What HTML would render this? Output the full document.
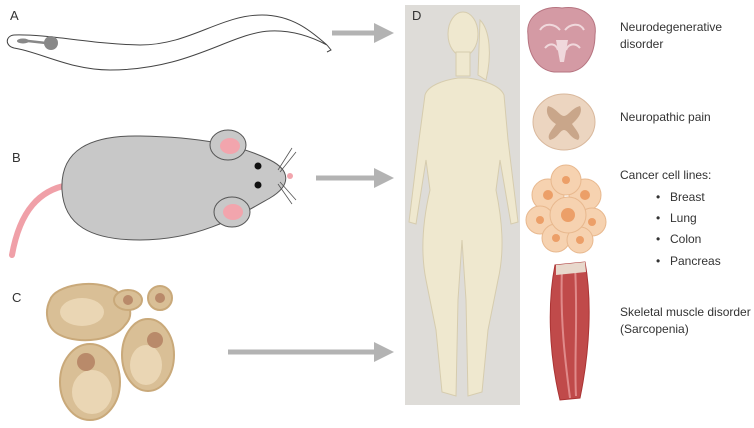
<!DOCTYPE html>
<html><head><meta charset="utf-8">
<style>
html,body{margin:0;padding:0;background:#fff;}
svg{display:block;font-family:"Liberation Sans",sans-serif;}
text{fill:#333;}
</style></head>
<body>
<svg width="754" height="428" viewBox="0 0 754 428">
  <defs>
    <marker id="ah" markerWidth="4" markerHeight="4" refX="2" refY="2" orient="auto">
      <path d="M0,0 L4,2 L0,4 z" fill="#b3b3b3"/>
    </marker>
  </defs>
  <!-- Panel A: worm -->
  <text x="10" y="20" font-size="13">A</text>
  <g>
    <path d="M14,35 C50,34 90,44 140,45 C190,45 220,15 262,15 C295,15 315,35 327,45 C310,36 290,30 270,31 C230,33 190,70 110,70 C70,70 40,52 14,48 C5,46 5,36 14,35 z" fill="#fff" stroke="#444" stroke-width="1"/>
    <path d="M327,45 L331,50 L327,52" stroke="#444" fill="none" stroke-width="1"/>
    <ellipse cx="23" cy="41" rx="6" ry="2.5" fill="#888"/>
    <circle cx="51" cy="43" r="7" fill="#888"/>
    <line x1="28" y1="41" x2="46" y2="43" stroke="#888" stroke-width="2.5"/>
  </g>
  <line x1="332" y1="33" x2="384" y2="33" stroke="#b3b3b3" stroke-width="5" marker-end="url(#ah)"/>

  <!-- Panel B: mouse -->
  <text x="12" y="162" font-size="13">B</text>
  <g>
    <path d="M68,185 C40,190 20,210 12,255" stroke="#f0a0a8" stroke-width="6" fill="none" stroke-linecap="round"/>
    <path d="M62,190 C60,150 90,135 140,136 C200,137 240,145 270,160 C290,170 292,185 270,198 C240,215 200,240 140,240 C90,240 64,225 62,190 z" fill="#c8c8c8" stroke="#555" stroke-width="1"/>
    <ellipse cx="228" cy="145" rx="18" ry="15" fill="#c8c8c8" stroke="#555"/>
    <ellipse cx="230" cy="146" rx="10" ry="8" fill="#f2a5ad"/>
    <ellipse cx="232" cy="212" rx="18" ry="15" fill="#c8c8c8" stroke="#555"/>
    <ellipse cx="233" cy="212" rx="10" ry="8" fill="#f2a5ad"/>
    <circle cx="258" cy="166" r="3.5" fill="#111"/>
    <circle cx="258" cy="185" r="3.5" fill="#111"/>
    <circle cx="290" cy="176" r="3" fill="#f2a5ad"/>
    <path d="M278,170 L292,148 M280,172 L296,152 M278,184 L292,204 M280,182 L296,200" stroke="#555" stroke-width="0.8"/>
  </g>
  <line x1="316" y1="178" x2="384" y2="178" stroke="#b3b3b3" stroke-width="5" marker-end="url(#ah)"/>

  <!-- Panel C: yeast cells -->
  <text x="12" y="302" font-size="13">C</text>
  <g stroke="#c9a97a" stroke-width="2">
    <path d="M50,300 C55,285 95,278 115,290 C130,300 135,315 125,325 C115,340 80,345 60,335 C45,328 45,310 50,300 z" fill="#d9bf96"/>
    <ellipse cx="82" cy="312" rx="22" ry="14" fill="#ead6b4" stroke="none"/>
    <ellipse cx="128" cy="300" rx="14" ry="10" fill="#d9bf96"/>
    <circle cx="128" cy="300" r="5" fill="#b98a6a" stroke="none"/>
    <circle cx="160" cy="298" r="12" fill="#d9bf96"/>
    <circle cx="160" cy="298" r="5" fill="#b98a6a" stroke="none"/>
    <ellipse cx="90" cy="382" rx="30" ry="38" fill="#d9bf96"/>
    <ellipse cx="92" cy="392" rx="20" ry="22" fill="#ead6b4" stroke="none"/>
    <circle cx="86" cy="362" r="9" fill="#b98a6a" stroke="none"/>
    <ellipse cx="148" cy="355" rx="26" ry="36" fill="#d9bf96"/>
    <ellipse cx="146" cy="365" rx="16" ry="20" fill="#ead6b4" stroke="none"/>
    <circle cx="155" cy="340" r="8" fill="#b98a6a" stroke="none"/>
  </g>
  <line x1="228" y1="352" x2="384" y2="352" stroke="#b3b3b3" stroke-width="5" marker-end="url(#ah)"/>

  <!-- Panel D: human -->
  <rect x="405" y="5" width="115" height="400" fill="#dedcd8"/>
  <text x="412" y="20" font-size="13">D</text>
  <g fill="#efe8cf" stroke="#d6ccae" stroke-width="1">
    <path d="M480,20 C490,30 492,55 486,80 L478,75 z"/>
    <ellipse cx="463" cy="34" rx="15" ry="22"/>
    <rect x="456" y="52" width="14" height="24"/>
    <path d="M425,95 C428,85 445,80 458,78 L468,78 C482,80 500,85 504,95 L508,140 L518,222 L511,224 L500,160 L496,190 C502,220 505,250 498,280 L488,330 L482,392 L468,396 L466,300 L462,240 L458,300 L456,396 L442,392 L436,330 L426,280 C420,250 423,220 430,190 L426,160 L416,224 L409,222 L419,140 z"/>
  </g>

  <!-- Brain -->
  <g>
    <path d="M528,35 C525,15 545,5 562,8 C580,5 598,15 595,35 C595,55 585,70 570,72 L554,72 C538,70 528,55 528,35 z" fill="#d49aa4" stroke="#b67480"/>
    <path d="M540,30 C545,22 555,24 560,30 M565,30 C570,24 580,22 584,30 M545,48 C550,42 556,44 558,50 M566,50 C568,44 575,42 580,48" stroke="#f0d8dc" stroke-width="2" fill="none"/>
    <path d="M556,40 L568,40 L564,62 L560,62 z" fill="#f0d8dc"/>
  </g>
  <text x="620" y="31" font-size="12">Neurodegenerative</text>
  <text x="620" y="48" font-size="12">disorder</text>

  <!-- Spinal cord -->
  <g>
    <ellipse cx="564" cy="122" rx="31" ry="28" fill="#ecd5c0" stroke="#d9b89c"/>
    <path d="M548,106 C556,108 560,116 564,116 C568,116 572,108 580,106 C584,114 574,122 572,124 C576,130 582,136 578,140 C570,138 568,130 564,130 C560,130 558,138 550,140 C546,136 552,130 556,124 C552,122 544,114 548,106 z" fill="#c9a68a"/>
  </g>
  <text x="620" y="121" font-size="12">Neuropathic pain</text>

  <!-- Cancer cells -->
  <g fill="#f6d2b0" stroke="#e8b88e">
    <circle cx="548" cy="195" r="16"/><circle cx="585" cy="195" r="16"/>
    <circle cx="566" cy="180" r="15"/><circle cx="540" cy="220" r="14"/>
    <circle cx="592" cy="222" r="14"/><circle cx="556" cy="238" r="14"/>
    <circle cx="580" cy="240" r="13"/><circle cx="568" cy="215" r="18"/>
    <g fill="#ec9f68" stroke="none">
      <circle cx="568" cy="215" r="7"/><circle cx="548" cy="195" r="5"/><circle cx="585" cy="195" r="5"/>
      <circle cx="540" cy="220" r="4"/><circle cx="592" cy="222" r="4"/><circle cx="556" cy="238" r="4"/>
      <circle cx="580" cy="240" r="4"/><circle cx="566" cy="180" r="4"/>
    </g>
  </g>
  <text x="620" y="179" font-size="12">Cancer cell lines:</text>
  <g font-size="12">
    <text x="656" y="201">•</text><text x="670" y="201">Breast</text>
    <text x="656" y="222">•</text><text x="670" y="222">Lung</text>
    <text x="656" y="243">•</text><text x="670" y="243">Colon</text>
    <text x="656" y="265">•</text><text x="670" y="265">Pancreas</text>
  </g>

  <!-- Muscle -->
  <g>
    <path d="M555,265 L585,262 C592,300 590,350 580,398 L560,400 C548,350 548,300 555,265 z" fill="#c04a4a" stroke="#a33"/>
    <path d="M562,268 C560,320 565,360 570,398 M575,266 C578,320 574,360 576,396" stroke="#e08a8a" stroke-width="2" fill="none"/>
    <path d="M556,265 L585,262 L586,272 L556,275 z" fill="#e8d8cc"/>
  </g>
  <text x="620" y="316" font-size="12">Skeletal muscle disorder</text>
  <text x="620" y="333" font-size="12">(Sarcopenia)</text>
</svg>
</body></html>
